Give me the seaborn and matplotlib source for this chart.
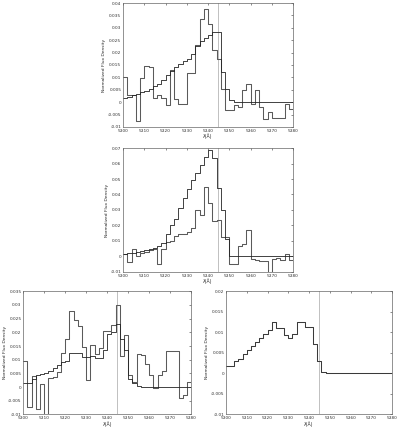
import numpy as np
import matplotlib
matplotlib.use("Agg")
import matplotlib.pyplot as plt
from matplotlib.ticker import FuncFormatter, MultipleLocator
import seaborn as sns

# bin edges (2 A bins, 5300-5380)
wavelength = np.arange(5300, 5381, 2)

top_model = [0.0018, 0.0022, 0.003, 0.0035, 0.004, 0.0045, 0.0052, 0.0065, 0.0075, 0.009,
             0.011, 0.0125, 0.014, 0.0155, 0.0165, 0.0175, 0.0195, 0.0225, 0.0245, 0.026,
             0.0272, 0.0285, 0.0285, 0.012, 0.0054, 0.0007, 0, 0, 0, 0,
             0, 0, 0, 0, 0, 0, 0, 0, 0, 0]
top_data = [0.0102, 0.0028, 0.0028, -0.0076, 0.0097, 0.0145, 0.014, 0.0018, 0.003, 0.0018,
            -0.0013, 0.0128, 0.0014, -0.0006, -0.0006, 0.0118, 0.0118, 0.0229, 0.0336, 0.0376,
            0.0317, 0.021, 0.0175, 0.0054, -0.0033, -0.003, -0.0013, -0.002, 0.0048, 0.0075,
            -0.0006, 0.0048, -0.002, -0.0066, -0.004, -0.0062, -0.0062, -0.0062, -0.0006, -0.0026]

mid_model = [0.0015, 0.002, 0.0025, 0.003, 0.0035, 0.004, 0.0048, 0.0055, 0.0065, 0.0085,
             0.0146, 0.02, 0.0243, 0.031, 0.0378, 0.0437, 0.0495, 0.054, 0.0593, 0.064,
             0.0685, 0.0635, 0.044, 0.0297, 0.0114, 0.0006, 0, 0, 0, 0,
             0, 0, 0, 0, 0, 0, 0, 0, 0, 0]
mid_data = [0.0017, -0.0037, 0.005, 0.0, 0.0024, 0.0032, 0.0045, 0.005, -0.0047, 0.005,
            0.0093, 0.0103, 0.0135, 0.0146, 0.0146, 0.0157, 0.0183, 0.0297, 0.0265, 0.0447,
            0.0346, 0.0226, 0.0235, 0.0125, 0.0125, -0.0047, -0.0047, 0.007, 0.0078, 0.017,
            -0.0015, -0.002, -0.0026, -0.0026, -0.01, -0.0015, -0.0012, -0.0022, 0.0017, -0.0025]

bl_model = [0.0015, 0.0015, 0.003, 0.0045, 0.0048, 0.005, 0.0057, 0.0069, 0.0081, 0.009,
            0.0095, 0.0125, 0.0125, 0.0125, 0.011, 0.011, 0.0115, 0.0105, 0.0105, 0.0135,
            0.0195, 0.02, 0.0232, 0.0175, 0.0135, 0.003, 0.0015, 0.0005, 0, 0,
            0, 0, 0, 0, 0, 0, 0, 0, 0, 0]
bl_data = [0.0094, -0.0074, 0.004, -0.0079, 0.001, -0.0105, 0.0033, 0.0037, 0.0055, 0.0126,
           0.0174, 0.0279, 0.0245, 0.0224, 0.0146, 0.0027, 0.0155, 0.012, 0.0144, 0.0204,
           0.0204, 0.0227, 0.0299, 0.0114, 0.019, 0.0045, 0.0017, 0.012, 0.0117, 0.0085,
           0.0043, -0.0005, 0.0045, 0.0057, 0.0132, 0.0132, 0.0132, -0.004, -0.003, 0.002]

br_model = [0.0017, 0.0019, 0.0031, 0.0034, 0.0046, 0.0058, 0.0067, 0.0077, 0.0087, 0.0097,
            0.0106, 0.0124, 0.011, 0.0111, 0.0094, 0.0087, 0.0096, 0.0124, 0.0126, 0.0112,
            0.0112, 0.0072, 0.003, 0.0003, 0.0001, 0, 0, 0, 0, 0,
            0, 0, 0, 0, 0, 0, 0, 0, 0, 0]

line_center = 5344.6

sns.set_style("white")
plt.rcParams['font.family'] = ['DejaVu Sans']

fig = plt.figure(figsize=(4.0, 4.29), dpi=100)
ax_top = fig.add_axes([0.3075, 0.704, 0.425, 0.289])
ax_mid = fig.add_axes([0.3075, 0.366, 0.425, 0.289])
ax_bl = fig.add_axes([0.058, 0.034, 0.42, 0.287])
ax_br = fig.add_axes([0.565, 0.034, 0.415, 0.287])


def steps(ax, vals, color, lw):
    y = np.append(vals, vals[-1])
    sns.lineplot(x=wavelength, y=y, ax=ax, color=color, linewidth=lw,
                 drawstyle='steps-post', sort=False)


def style(ax, ymin, ymax, ystep):
    ax.axvline(line_center, color='#b5b5b5', linewidth=0.6, zorder=0)
    ax.set_xlim(5300, 5380)
    ax.set_ylim(ymin, ymax)
    ax.xaxis.set_major_locator(MultipleLocator(10))
    ax.yaxis.set_major_locator(MultipleLocator(ystep))
    ax.yaxis.set_major_formatter(FuncFormatter(lambda v, p: '%g' % round(v, 4)))
    ax.tick_params(direction='in', length=1.5, width=0.4, labelsize=3.1,
                   top=True, right=True, pad=1.2, colors='#333333')
    for s in ax.spines.values():
        s.set_linewidth(0.5)
        s.set_color('#666666')
    ax.set_xlabel('λ(Å)', fontsize=3.3, labelpad=0.6)
    ax.set_ylabel('Normalized Flux Density', fontsize=3.2, labelpad=1.2)


steps(ax_top, top_data, '#5a5a5a', 0.75)
steps(ax_top, top_model, '#222222', 0.6)
style(ax_top, -0.01, 0.04, 0.005)

steps(ax_mid, mid_data, '#5a5a5a', 0.75)
steps(ax_mid, mid_model, '#222222', 0.6)
style(ax_mid, -0.01, 0.07, 0.01)

steps(ax_bl, bl_data, '#5a5a5a', 0.75)
steps(ax_bl, bl_model, '#222222', 0.6)
style(ax_bl, -0.01, 0.035, 0.005)
ax_bl.yaxis.labelpad = 0.5

steps(ax_br, br_model, '#3a3a3a', 0.75)
style(ax_br, -0.01, 0.02, 0.005)

fig.savefig('out.png', dpi=100)
